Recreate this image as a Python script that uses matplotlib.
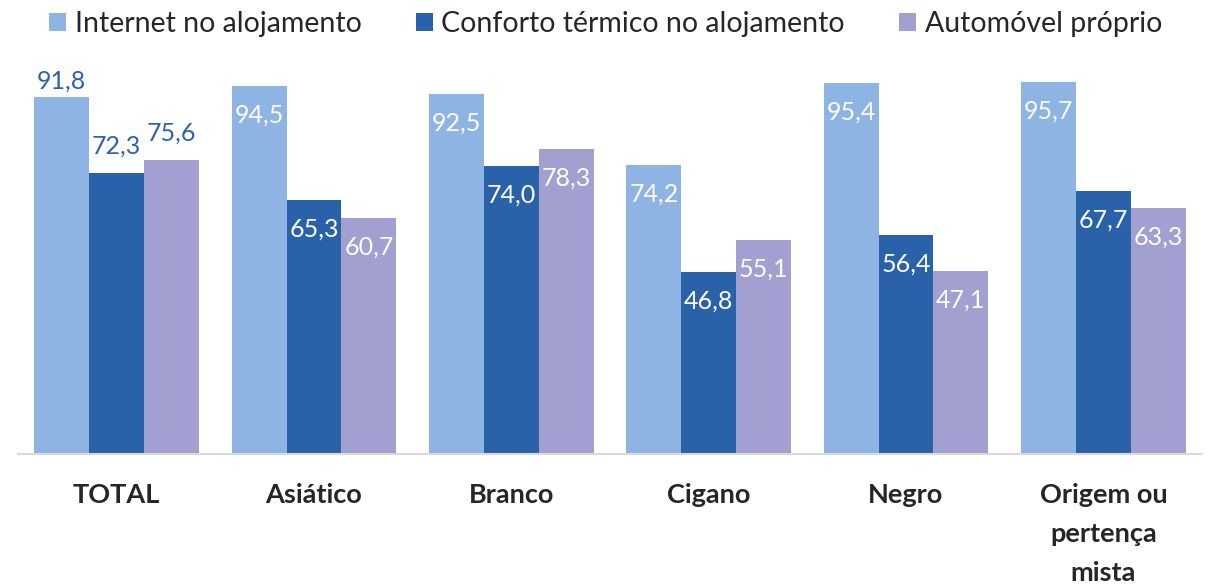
import matplotlib
matplotlib.use("Agg")
import matplotlib.pyplot as plt
import numpy as np
from matplotlib.patches import Patch

categories = ["TOTAL", "Asiático", "Branco", "Cigano", "Negro", "Origem ou\npertença\nmista"]
series_names = ["Internet no alojamento", "Conforto térmico no alojamento", "Automóvel próprio"]
internet = [91.8, 94.5, 92.5, 74.2, 95.4, 95.7]
conforto = [72.3, 65.3, 74.0, 46.8, 56.4, 67.7]
automovel = [75.6, 60.7, 78.3, 55.1, 47.1, 63.3]

colors = ["#8EB4E3", "#2A62A9", "#A29FD1"]
label_blue = "#2E63A8"

plt.rcParams['font.family'] = ['Lato', 'DejaVu Sans']

fig = plt.figure(figsize=(12.11, 5.86), dpi=100)
ax = fig.add_axes([18/1211, 1 - 454.3/586, (1202-18)/1211, 389.5/586])

x = np.arange(len(categories))
w = 0.278
series = [internet, conforto, automovel]
fs_lab = 18
for i, (vals, c) in enumerate(zip(series, colors)):
    pos = x + (i - 1) * w
    ax.bar(pos, vals, width=w, color=c, edgecolor='none', zorder=2)
    for j, (p, v) in enumerate(zip(pos, vals)):
        txt = f"{v:.1f}".replace('.', ',')
        if j == 0:
            off = 11.5 if v > 90 else 19
            ax.annotate(txt, (p, v), xytext=(0, off), textcoords='offset points',
                        ha='center', va='center', fontsize=fs_lab, color=label_blue,
                        annotation_clip=False)
        else:
            ax.annotate(txt, (p, v), xytext=(0, -21), textcoords='offset points',
                        ha='center', va='center', fontsize=fs_lab, color='white')

ax.set_xlim(-0.5, len(categories) - 0.5)
ax.set_ylim(0, 100)
ax.set_yticks([])
ax.set_xticks(x)
ax.set_xticklabels(categories, fontsize=19.5, fontweight='bold', color='#262626',
                   linespacing=1.75, va='top')
ax.tick_params(axis='x', length=0, pad=21)
for s in ['top', 'right', 'left']:
    ax.spines[s].set_visible(False)
ax.spines['bottom'].set_color('#D9D9D9')
ax.spines['bottom'].set_linewidth(1.5)

handles = [Patch(facecolor=c, edgecolor='none') for c in colors]
fig.legend(handles, series_names, loc='upper center', bbox_to_anchor=(0.5, 1.025),
           ncol=3, frameon=False, fontsize=20.5, handlelength=0.6, handleheight=0.6,
           handletextpad=0.3, columnspacing=1.9, labelcolor='#262626')

fig.savefig("out.png", dpi=100)
